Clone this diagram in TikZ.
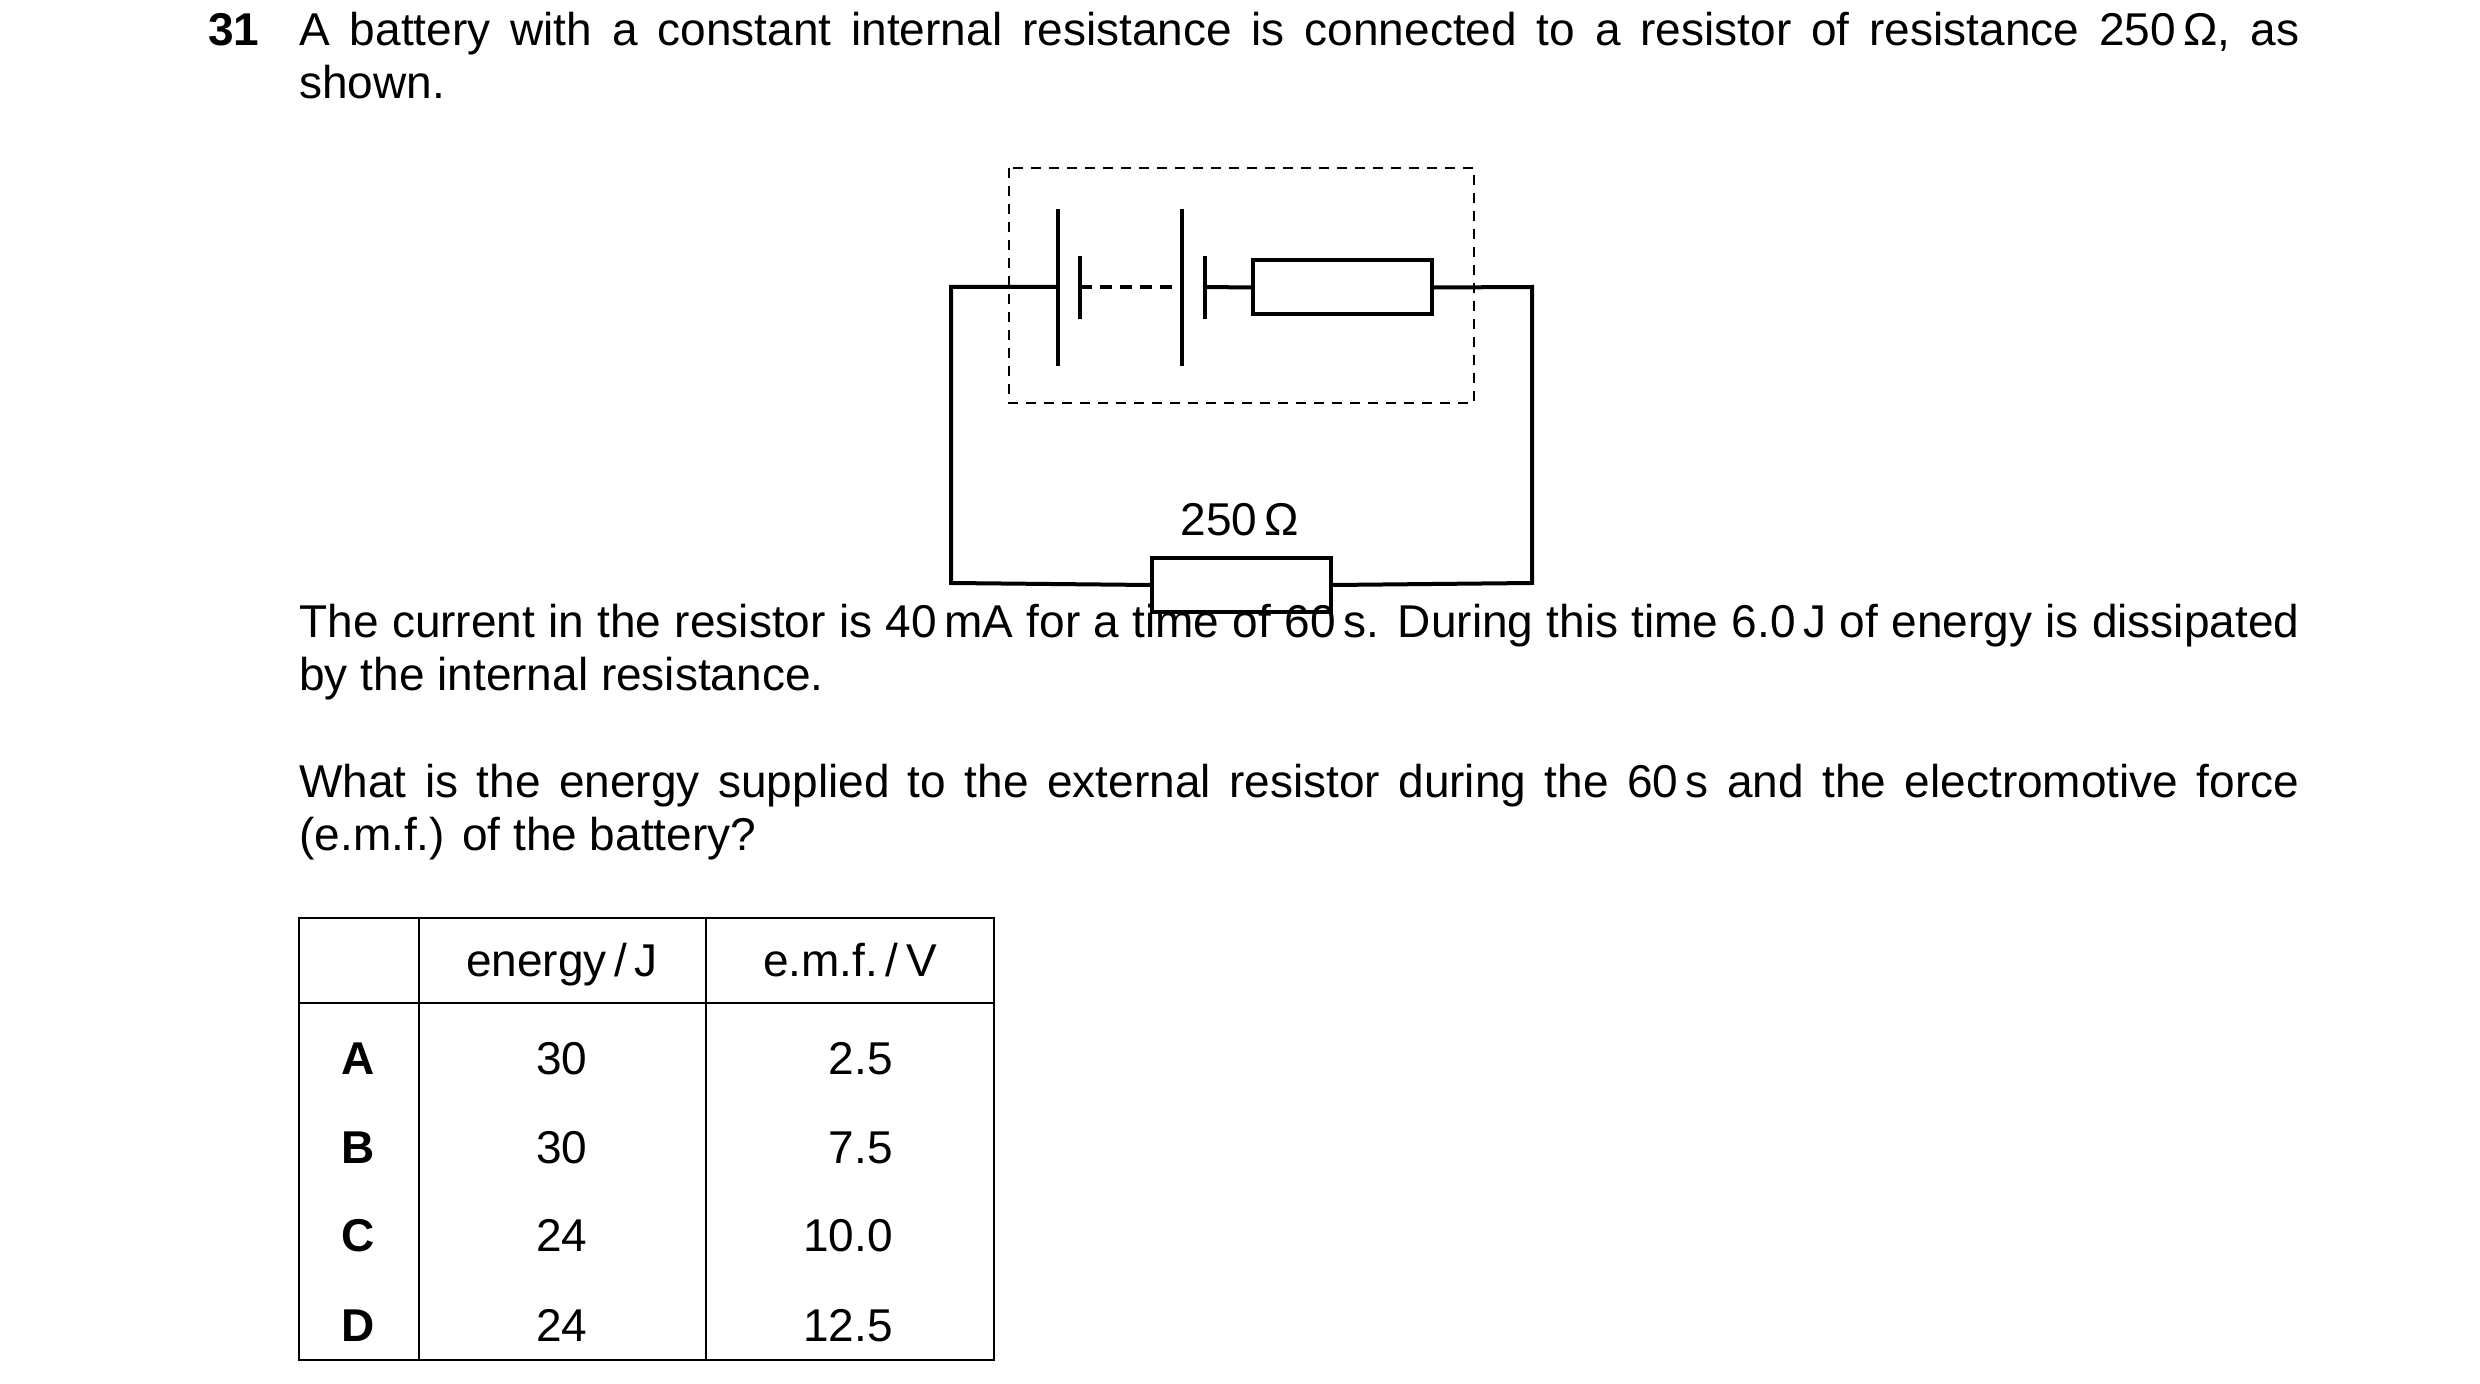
\documentclass[tikz,border=0pt]{standalone}
\usepackage{fontspec}
\setmainfont{Liberation Sans}
\begin{document}
\begin{tikzpicture}[x={(0.5pt,0)},y={(0,-0.5pt)},
  wire/.style={line width=2pt},
  tab/.style={line width=1pt},
  txt/.style={inner sep=0pt,font=\fontsize{23}{26.5}\selectfont},
  para/.style={txt,anchor=base west}]
\useasboundingbox (0,0) rectangle (2480,1384);
% text
\node[txt,anchor=base west] (num) at (208,46) {\textbf{31}};
\node[para] (p1) at (299,46) {\parbox[t]{1000pt}{\fontsize{23}{26.5}\selectfont\spaceskip=0.3em plus 1em A battery with a constant internal resistance is connected to a resistor of resistance 250\,Ω, as shown.}};
\node[para] (p2) at (299,638) {\parbox[t]{1000pt}{\fontsize{23}{26.5}\selectfont The current in the resistor is 40\,mA for a time of 60\,s. During this time 6.0\,J of energy is dissipated by the internal resistance.}};
\node[para] (p3) at (299,798) {\parbox[t]{1000pt}{\fontsize{23}{26.5}\selectfont What is the energy supplied to the external resistor during the 60\,s and the electromotive force (e.m.f.) of the battery?}};
% circuit
\coordinate (tl) at (951,287); \coordinate (tr) at (1532,287);
\coordinate (bl) at (951,583); \coordinate (br) at (1532,583);
\node[draw,wire,minimum width=89.5pt,minimum height=27pt,inner sep=0pt] (rint) at (1342.5,287.5) {};
\node[draw,wire,minimum width=89.5pt,minimum height=27pt,inner sep=0pt] (rext) at (1241.5,585) {};
\node[txt,anchor=base] (lab) at (1240,536) {250\,Ω};
\coordinate (c1) at (1058,287); \coordinate (s1) at (1080,287);
\coordinate (c2) at (1182,287); \coordinate (s2) at (1205,287);
\draw[wire] (c1) -- (tl) -- (bl) -- (rext.west);
\draw[wire] (rext.east) -- (br) -- (tr) -- (rint.east);
\draw[wire] (s2) -- (rint.west);
\draw[wire] (1058,209) -- (1058,366);
\draw[wire] (1080,256) -- (1080,319);
\draw[wire] (1182,209) -- (1182,366);
\draw[wire] (1205,256) -- (1205,319);
\draw[wire,dash pattern=on 6pt off 4pt] (s1) -- (c2);
\draw[line width=0.8pt,dash pattern=on 5pt off 4pt] (1009,168) rectangle (1474,403);
% table
\draw[tab] (299,918) rectangle (994,1360);
\draw[tab] (299,1003) -- (994,1003);
\draw[tab] (419,918) -- (419,1360);
\draw[tab] (706,918) -- (706,1360);
\node[txt,anchor=base] (h1) at (562,976) {energy\,/\,J};
\node[txt,anchor=base] (h2) at (850,976) {e.m.f.\,/\,V};
\foreach \l/\e/\v/\y in {A/30/2.5/1074,B/30/7.5/1163,C/24/10.0/1251,D/24/12.5/1341}{
  \node[txt,anchor=base] at (358,\y) {\textbf{\l}};
  \node[txt,anchor=base] at (562,\y) {\e};
  \node[txt,anchor=base east] at (893,\y) {\v};
}
\end{tikzpicture}
\end{document}
